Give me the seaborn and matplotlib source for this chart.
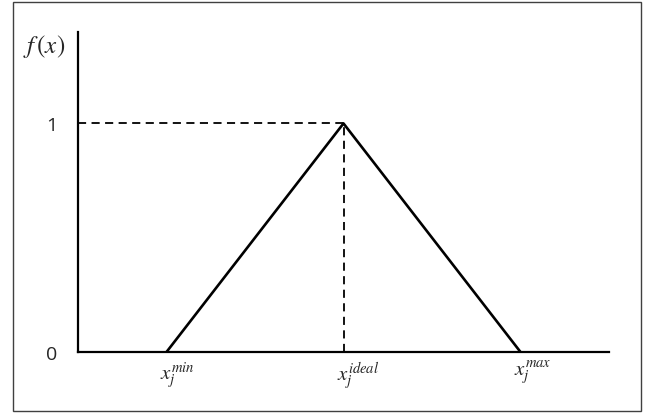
import matplotlib
matplotlib.use("Agg")
import matplotlib.pyplot as plt
import matplotlib.transforms as mtransforms
from matplotlib.patches import Rectangle
import seaborn as sns
import pandas as pd

# --- Data: triangular membership function ---
x_points = [0.5, 1.5, 2.5]
f_values = [0, 1, 0]
x_labels = [r"$x_j^{min}$", r"$x_j^{ideal}$", r"$x_j^{max}$"]
y_ticks = [0, 1]

df = pd.DataFrame({"x": x_points, "f": f_values})

sns.set_style("white")
plt.rcParams["font.family"] = ["Open Sans", "DejaVu Sans"]
plt.rcParams["mathtext.fontset"] = "stix"

fig = plt.figure(figsize=(6.46, 4.14), dpi=100)
ax = fig.add_axes([78 / 646, 61 / 414, 531 / 646, 320 / 414])

# triangle
sns.lineplot(data=df, x="x", y="f", color="black", linewidth=1.9, ax=ax, sort=False)

# dashed guides to the peak
peak = df.loc[df["f"].idxmax()]
ax.plot([0, peak["x"]], [peak["f"], peak["f"]], color="black", linewidth=1.3,
        linestyle=(0, (4.5, 3)))
ax.plot([peak["x"], peak["x"]], [0, peak["f"]], color="black", linewidth=1.3,
        linestyle=(0, (4.5, 3)))

ax.set_xlim(0, 3.0)
ax.set_ylim(0, 1.4)

for side in ["top", "right"]:
    ax.spines[side].set_visible(False)
for side in ["left", "bottom"]:
    ax.spines[side].set_linewidth(1.6)
    ax.spines[side].set_color("black")

ax.set_yticks(y_ticks)
ax.set_yticklabels([str(v) for v in y_ticks], fontsize=14)
ax.tick_params(axis="y", length=0, pad=15)
ax.set_xticks([])
ax.set_xlabel("")
ax.set_ylabel("")

# x labels with the base glyph sitting on the point
offset = mtransforms.ScaledTranslation(-5 / 72, 0, fig.dpi_scale_trans)
for xp, lab in zip(x_points, x_labels):
    ax.text(xp, -0.03, lab, transform=ax.transData + offset, ha="left", va="top",
            fontsize=15)

ax.text(-0.07, 1.34, r"$f\,(x)$", transform=ax.transData, ha="right", va="center",
        fontsize=18)

# frame round the whole figure
fig.patches.append(Rectangle((13.5 / 646, 2.5 / 414), 627 / 646, 409 / 414,
                             transform=fig.transFigure, fill=False,
                             edgecolor="#404040", linewidth=1.0))

fig.savefig("out.png", dpi=100)
